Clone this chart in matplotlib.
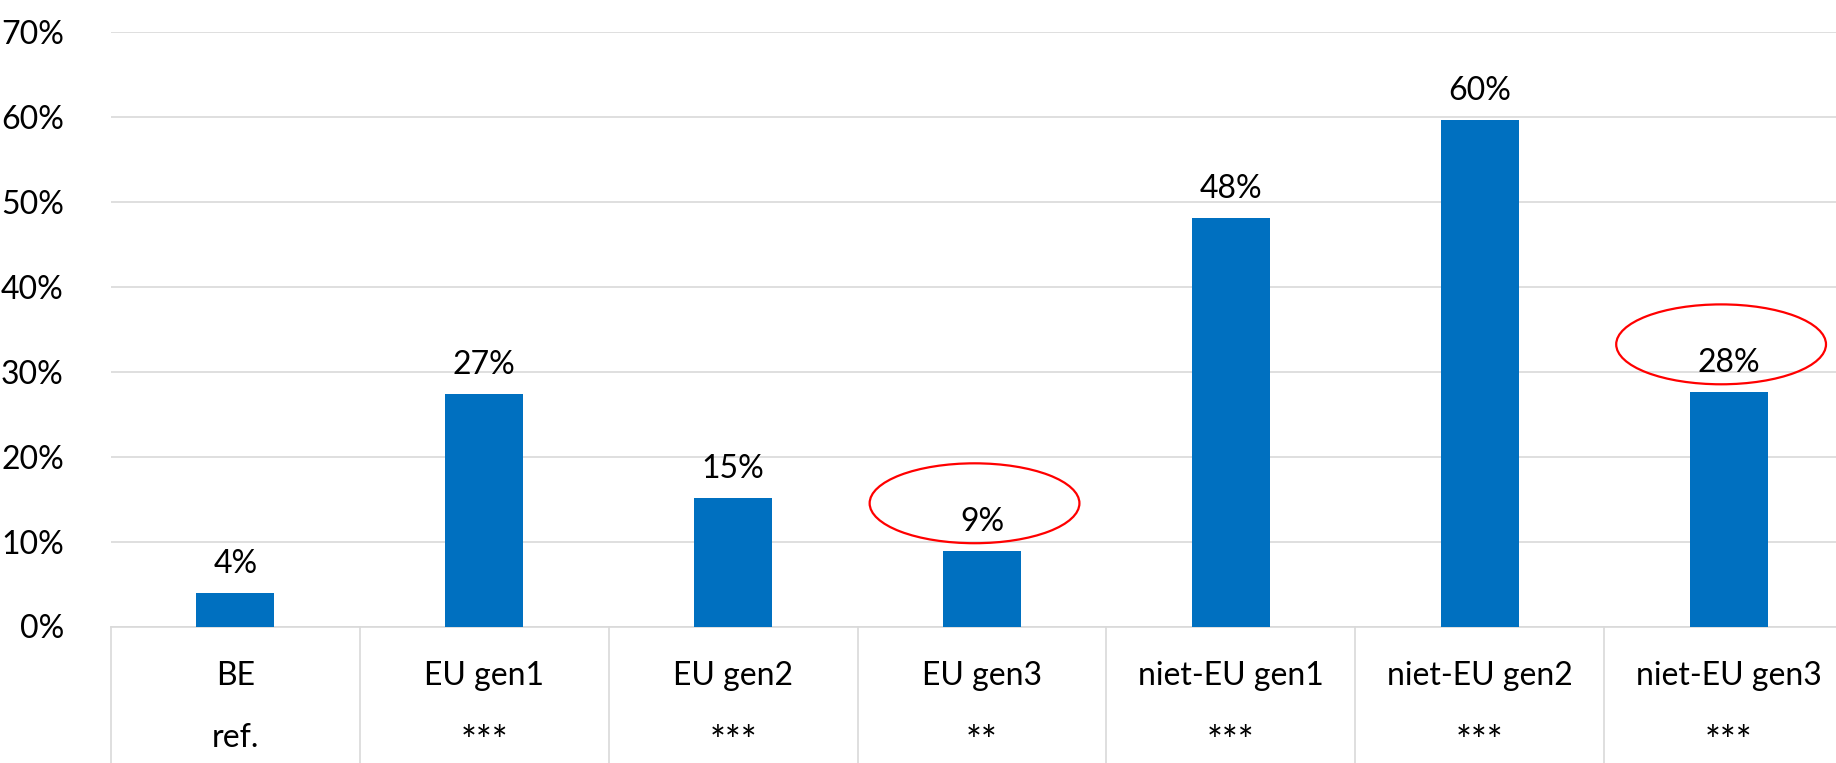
import matplotlib
matplotlib.use("Agg")
import matplotlib.pyplot as plt
import matplotlib.transforms as mtransforms
from matplotlib.patches import Ellipse

# data
categories = ["BE", "EU gen1", "EU gen2", "EU gen3", "niet-EU gen1", "niet-EU gen2", "niet-EU gen3"]
significance = ["ref.", "***", "***", "**", "***", "***", "***"]
values = [0.040, 0.274, 0.151, 0.089, 0.481, 0.596, 0.276]
highlighted = [3, 6]  # bars whose label is circled in red

yticks = [0.0, 0.1, 0.2, 0.3, 0.4, 0.5, 0.6, 0.7]

plt.rcParams['font.family'] = ['Lato', 'DejaVu Sans']

W, H = 1836, 763
fig = plt.figure(figsize=(W / 100, H / 100), dpi=100)
# axes run slightly past the right edge, like the cropped original
ax = fig.add_axes([111 / W, 1 - 626.5 / H, 1742 / W, 594.9 / H])

grid_col = "#d9d9d9"
bar_col = "#0070C0"

x = list(range(len(categories)))
bars = ax.bar(x, values, width=0.313, color=bar_col, zorder=3)

ax.set_xlim(-0.5, len(categories) - 0.5)
ax.set_ylim(0, 0.7)
ax.set_yticks(yticks)
ax.set_yticklabels(["{:.0f}%".format(v * 100) for v in yticks], fontsize=23)
ax.tick_params(axis="y", length=0, pad=34)
ax.set_xticks([])
ax.yaxis.grid(True, color=grid_col, linewidth=1.2, zorder=0)
for s in ["top", "right", "left"]:
    ax.spines[s].set_visible(False)
ax.spines["bottom"].set_color(grid_col)
ax.spines["bottom"].set_linewidth(1.2)

# value labels
for xi, v in zip(x, values):
    ax.annotate("{:.0f}%".format(v * 100), (xi, v), xytext=(0, 10),
                textcoords="offset points", ha="center", va="bottom", fontsize=23)

# red circles around some labels
for i in highlighted:
    e = Ellipse((i - 0.03, values[i] + 0.056), width=0.843, height=0.094,
                facecolor="none", edgecolor="red", linewidth=1.6, zorder=4)
    ax.add_patch(e)

# category table under the axis
trans = mtransforms.blended_transform_factory(ax.transData, ax.transAxes)
for b in range(len(categories) + 1):
    ax.plot([b - 0.5, b - 0.5], [0, -0.24], transform=trans, color=grid_col,
            linewidth=1.2, clip_on=False)
for xi, cat, sig in zip(x, categories, significance):
    ax.text(xi, -0.083, cat, transform=trans, ha="center", va="center", fontsize=23)
    if sig.startswith("*"):
        # Lato's asterisk is small and raised, so draw it a bit bigger, sitting low
        ax.text(xi, -0.226, sig, transform=trans, ha="center", va="bottom", fontsize=27)
    else:
        ax.text(xi, -0.187, sig, transform=trans, ha="center", va="center", fontsize=23)

fig.savefig("out.png", dpi=100)
